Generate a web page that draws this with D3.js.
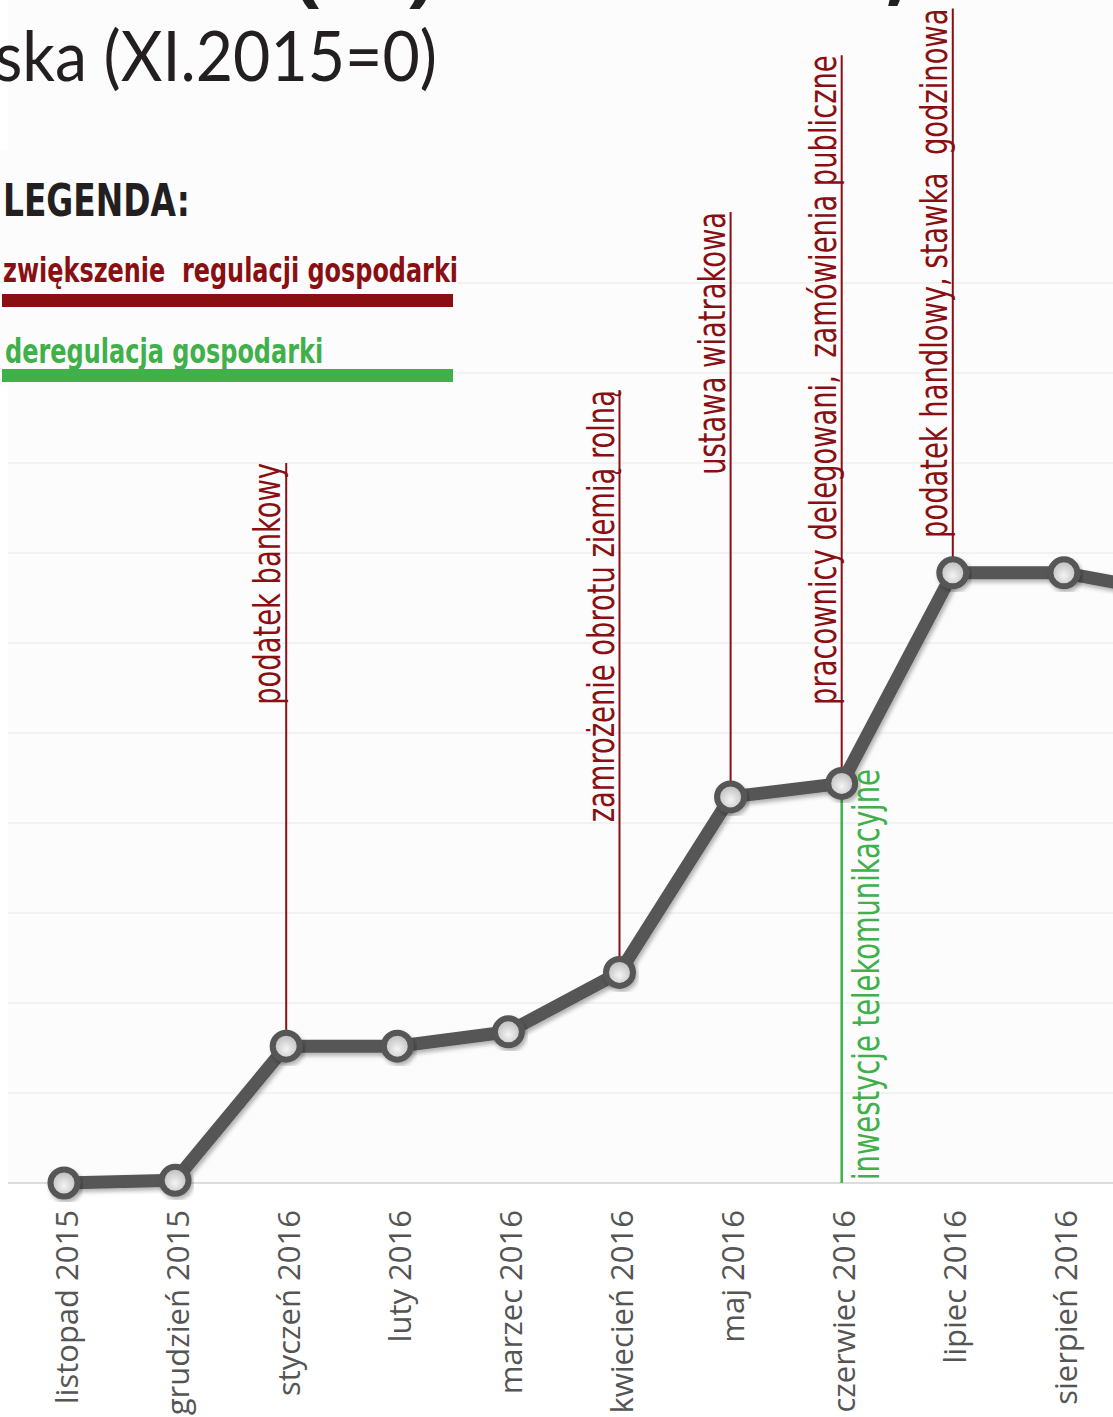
<!DOCTYPE html>
<html lang="pl">
<head>
<meta charset="utf-8">
<title>Indeks regulacji</title>
<script src="https://d3js.org/d3.v7.min.js"></script>
<style>
  body { margin: 0; background: #fff; }
  svg { display: block; }
  .ann { font-family: "DejaVu Sans Condensed", "DejaVu Sans", sans-serif; font-stretch: condensed; font-size: 38px; white-space: pre; }
  .tick text { font-family: "Open Sans", sans-serif; font-size: 31px; fill: #555; }
  .legend text { font-family: "DejaVu Sans Condensed", "DejaVu Sans", sans-serif; font-stretch: condensed; font-weight: bold; white-space: pre; }
</style>
</head>
<body>
<svg id="chart"></svg>
<script>
// miesiące i wartości indeksu (XI.2015 = 0)
var months = ["listopad 2015", "grudzień 2015", "styczeń 2016", "luty 2016", "marzec 2016",
              "kwiecień 2016", "maj 2016", "czerwiec 2016", "lipiec 2016", "sierpień 2016", "wrzesień 2016"];
var values = [0, 0.03, 1.52, 1.52, 1.68, 2.34, 4.29, 4.44, 6.78, 6.78, 6.55];

// zwiększenie regulacji - miesiąc, opis, do jakiej wysokości sięga podpis
var regMonth = [2, 5, 6, 7, 8];
var regText = ["podatek bankowy", "zamrożenie obrotu ziemią rolną", "ustawa wiatrakowa",
               "pracownicy delegowani,  zamówienia publiczne", "podatek handlowy, stawka  godzinowa"];
var regTop = [8.0, 8.81, 10.79, 12.53, 13.05];

// deregulacja
var deregMonth = [7];
var deregText = ["inwestycje telekomunikacyjne"];

var gridTicks = d3.range(0, 11);

var width = 1113, height = 1417;
var red = "#8a0f13", green = "#3fb04a", grey = "#565656", bg = "#fcfcfc";
var squeeze = 0.8; // zwężenie kroju podpisów

var svg = d3.select("#chart").attr("width", width).attr("height", height);

var x = d3.scaleLinear().domain([0, months.length - 1]).range([64, 1175]);
var y = d3.scaleLinear().domain([0, 10]).range([1183, 283]);

var defs = svg.append("defs");
var grad = defs.append("radialGradient").attr("id", "dotfill").attr("cx", "50%").attr("cy", "60%").attr("r", "60%");
grad.append("stop").attr("offset", "0%").attr("stop-color", "#f4f4f4");
grad.append("stop").attr("offset", "100%").attr("stop-color", "#b5b5b5");
var shadow = defs.append("filter").attr("id", "shadow").attr("x", "-20%").attr("y", "-20%").attr("width", "140%").attr("height", "140%");
shadow.append("feDropShadow").attr("dx", 2).attr("dy", 3).attr("stdDeviation", 2)
  .attr("flood-color", "#000").attr("flood-opacity", 0.3);

// tło wykresu
svg.append("rect").attr("x", 8).attr("y", 0).attr("width", width - 8).attr("height", y(0))
  .attr("fill", bg);

// siatka
svg.append("g").selectAll("line")
  .data(gridTicks)
  .enter().append("line")
  .attr("x1", 8).attr("x2", width)
  .attr("y1", function (d) { return y(d); })
  .attr("y2", function (d) { return y(d); })
  .attr("stroke", function (d) { return d === 0 ? "#dcdcdc" : "#efefef"; })
  .attr("stroke-width", function (d) { return d === 0 ? 2 : 1.5; });

// pionowe linie zdarzeń
svg.append("g").selectAll("line")
  .data(regMonth)
  .enter().append("line")
  .attr("x1", function (d) { return x(d); }).attr("x2", function (d) { return x(d); })
  .attr("y1", function (d) { return y(values[d]); })
  .attr("y2", function (d, i) { return y(regTop[i]); })
  .attr("stroke", red).attr("stroke-width", 2);

svg.append("g").selectAll("line")
  .data(deregMonth)
  .enter().append("line")
  .attr("x1", function (d) { return x(d); }).attr("x2", function (d) { return x(d); })
  .attr("y1", function (d) { return y(values[d]); })
  .attr("y2", y(0))
  .attr("stroke", green).attr("stroke-width", 2.5);

// linia indeksu
var line = d3.line()
  .x(function (d, i) { return x(i); })
  .y(function (d) { return y(d); });

svg.append("path")
  .datum(values)
  .attr("d", line)
  .attr("fill", "none")
  .attr("stroke", grey)
  .attr("stroke-width", 13)
  .attr("stroke-linejoin", "round")
  .attr("filter", "url(#shadow)");

svg.append("g").selectAll("circle")
  .data(values)
  .enter().append("circle")
  .attr("cx", function (d, i) { return x(i); })
  .attr("cy", function (d) { return y(d); })
  .attr("r", 13.5)
  .attr("fill", "url(#dotfill)")
  .attr("stroke", grey)
  .attr("stroke-width", 6)
  .attr("filter", "url(#shadow)");

// podpisy zdarzeń
svg.append("g").selectAll("text")
  .data(regMonth)
  .enter().append("text")
  .attr("class", "ann")
  .attr("transform", function (d, i) {
    return "translate(" + (x(d) - 6) + "," + y(regTop[i]) + ") rotate(-90) scale(" + squeeze + ",1)";
  })
  .attr("text-anchor", "end")
  .attr("fill", red)
  .text(function (d, i) { return regText[i]; });

svg.append("g").selectAll("text")
  .data(deregMonth)
  .enter().append("text")
  .attr("class", "ann")
  .attr("transform", function (d) {
    return "translate(" + (x(d) + 37) + "," + (y(0) - 3) + ") rotate(-90) scale(" + squeeze + ",1)";
  })
  .attr("text-anchor", "start")
  .attr("fill", green)
  .text(function (d, i) { return deregText[i]; });

// oś X (tylko miesiące mieszczące się w kadrze)
var xAxis = d3.axisBottom(x)
  .tickValues(d3.range(months.length).filter(function (i) { return x(i) < width; }))
  .tickFormat(function (i) { return months[i]; })
  .tickSize(0);

var axisG = svg.append("g")
  .attr("transform", "translate(0," + y(0) + ")")
  .call(xAxis);
axisG.select(".domain").remove();
axisG.selectAll("text")
  .attr("transform", "rotate(-90)")
  .attr("x", -27)
  .attr("y", 13)
  .attr("dy", 0)
  .attr("text-anchor", "end");

// legenda
var legend = svg.append("g").attr("class", "legend");
legend.append("rect").attr("x", 0).attr("y", 150).attr("width", 457).attr("height", 236).attr("fill", bg);
legend.append("text").attr("transform", "translate(3,216) scale(0.83,1)")
  .attr("font-size", 44).attr("fill", "#231f20").text("LEGENDA:");
legend.append("text").attr("transform", "translate(3,282) scale(0.783,1)")
  .attr("font-size", 34).attr("fill", red).text("zwiększenie  regulacji gospodarki");
legend.append("rect").attr("x", 2).attr("y", 294).attr("width", 451).attr("height", 13).attr("fill", red);
legend.append("text").attr("transform", "translate(5,363) scale(0.785,1)")
  .attr("font-size", 34).attr("fill", green).text("deregulacja gospodarki");
legend.append("rect").attr("x", 2).attr("y", 369).attr("width", 451).attr("height", 13).attr("fill", green);

// tytuł (ucięty u góry kadru)
svg.append("text")
  .attr("x", 436).attr("y", -5)
  .attr("text-anchor", "end")
  .attr("font-family", "Open Sans, sans-serif").attr("font-weight", "bold").attr("font-size", 86)
  .attr("fill", "#231f20")
  .text("Indeks (IR)");
svg.append("text")
  .attr("x", 910).attr("y", -5)
  .attr("text-anchor", "end")
  .attr("font-family", "Open Sans, sans-serif").attr("font-weight", "bold").attr("font-size", 86)
  .attr("fill", "#231f20")
  .text("w Polsce,");
svg.append("text")
  .attr("transform", "translate(437,81) scale(0.92,1)")
  .attr("text-anchor", "end")
  .attr("font-family", "Lato, sans-serif").attr("font-size", 70)
  .attr("fill", "#231f20")
  .text("gospodarka Polska (XI.2015=0)");
</script>
</body>
</html>
